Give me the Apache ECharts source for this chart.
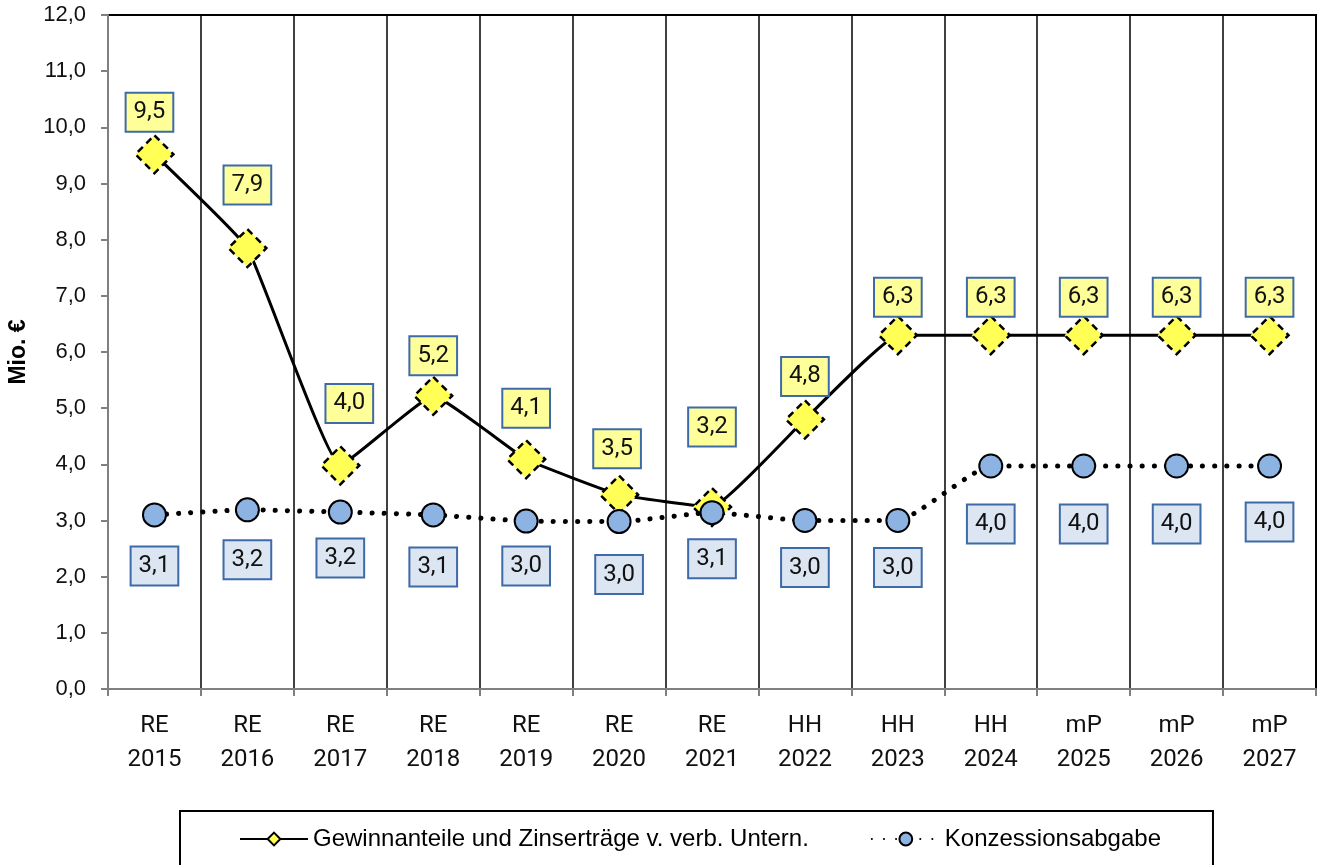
<!DOCTYPE html>
<html>
<head>
<meta charset="utf-8">
<script src="https://cdn.jsdelivr.net/npm/echarts@6/dist/echarts.min.js"></script>
<style>
  html, body { margin: 0; padding: 0; background: #fff; }
  #chart { width: 1318px; height: 865px; }
</style>
</head>
<body>
<div id="chart"></div>
<script>
// Kategorien (RE = Rechnungsergebnis, HH = Haushalt, mP = mittelfristige Planung)
const categories = [
  'RE\n2015', 'RE\n2016', 'RE\n2017', 'RE\n2018', 'RE\n2019', 'RE\n2020', 'RE\n2021',
  'HH\n2022', 'HH\n2023', 'HH\n2024', 'mP\n2025', 'mP\n2026', 'mP\n2027'
]
const gewinnanteile = [9.52, 7.85, 3.98, 5.22, 4.09, 3.46, 3.24, 4.8, 6.3, 6.3, 6.3, 6.3, 6.3]
const gewinnLabels = ['9,5', '7,9', '4,0', '5,2', '4,1', '3,5', '3,2', '4,8', '6,3', '6,3', '6,3', '6,3', '6,3']
const konzession = [3.1, 3.19, 3.15, 3.1, 2.99, 2.98, 3.14, 3.0, 3.0, 3.97, 3.97, 3.97, 3.97]
const konzessionLabels = ['3,1', '3,2', '3,2', '3,1', '3,0', '3,0', '3,1', '3,0', '3,0', '4,0', '4,0', '4,0', '4,0']
const seriesNames = ['Gewinnanteile und Zinserträge v. verb. Untern.', 'Konzessionsabgabe']

// Lage der Datenbeschriftungen (wie im Original manuell verschoben)
const gewinnLabelShift = [[-5, -42], [0, -63], [9, -62], [0, -40], [0, -51], [-2, -46], [0, -80], [0, -43], [0, -38], [0, -38], [0, -38], [0, -38], [0, -38]]
const konzLabelShift = [[0, 51], [0, 50], [0, 46], [0, 52], [0, 45], [0, 53], [0, 46], [0, 47], [0, 47], [0, 58], [0, 58], [0, 58], [0, 56]]

const chart = echarts.init(document.getElementById('chart'), null, { renderer: 'canvas' })

const labelBox = (fill, border) => ({
  show: true,
  position: 'inside',
  fontFamily: 'Roboto',
  fontSize: 24,
  lineHeight: 26,
  color: '#111',
  backgroundColor: fill,
  borderColor: border,
  borderWidth: 2,
  padding: [6, 7, 5, 7]
})

const option = {
  animation: false,
  backgroundColor: '#fff',
  grid: {
    left: 108,
    right: 2,
    top: 15,
    bottom: 176,
    outerBoundsMode: 'none',
    containLabel: false,
    show: true,
    borderColor: '#000',
    borderWidth: 2
  },
  legend: {
    left: 180,
    top: 811,
    padding: [16, 52, 40, 59],
    borderColor: '#000',
    borderWidth: 2,
    itemWidth: 68,
    itemHeight: 16,
    itemGap: 62,
    textStyle: { fontFamily: 'Liberation Sans', fontSize: 24, color: '#000' },
    data: seriesNames
  },
  xAxis: {
    type: 'category',
    data: categories,
    boundaryGap: true,
    axisLine: { lineStyle: { color: '#808080', width: 2 } },
    axisTick: { show: true, length: 7, lineStyle: { color: '#808080', width: 2 } },
    splitLine: { show: true, lineStyle: { color: '#000', width: 1.5 } },
    axisLabel: {
      margin: 20,
      fontFamily: 'Roboto',
      fontSize: 24,
      lineHeight: 34,
      color: '#111'
    }
  },
  yAxis: {
    type: 'value',
    min: 0,
    max: 12,
    interval: 1,
    name: 'Mio. €',
    nameLocation: 'middle',
    nameRotate: 90,
    nameGap: 78,
    nameTextStyle: { fontFamily: 'Liberation Sans', fontWeight: 'bold', fontSize: 23, color: '#000' },
    axisLine: { show: true, lineStyle: { color: '#808080', width: 2 } },
    axisTick: { show: true, length: 7, lineStyle: { color: '#808080', width: 2 } },
    splitLine: { show: false },
    axisLabel: {
      margin: 22,
      fontFamily: 'Liberation Sans',
      fontSize: 22,
      color: '#111',
      formatter: (v) => v.toFixed(1).replace('.', ',')
    }
  },
  series: [
    {
      name: seriesNames[0],
      type: 'line',
      smooth: 0.1,
      z: 3,
      data: gewinnanteile.map((v, i) => ({
        value: v,
        label: { offset: gewinnLabelShift[i], formatter: gewinnLabels[i] }
      })),
      lineStyle: { color: '#000', width: 3 },
      symbol: 'diamond',
      symbolSize: 38,
      itemStyle: { color: '#ffff55', borderColor: '#000', borderWidth: 2.5, borderType: [7, 5] },
      label: labelBox('#ffff99', '#3f6aa8')
    },
    {
      name: seriesNames[1],
      type: 'line',
      smooth: 0.15,
      z: 4,
      data: konzession.map((v, i) => ({
        value: v,
        label: { offset: konzLabelShift[i], formatter: konzessionLabels[i] }
      })),
      lineStyle: { color: '#000', width: 5, type: [0.1, 12], cap: 'round' },
      symbol: 'circle',
      symbolSize: 23,
      itemStyle: { color: '#8db3e2', borderColor: '#000', borderWidth: 2 },
      label: labelBox('#dce6f2', '#3f6aa8')
    }
  ]
}

chart.setOption(option)
</script>
</body>
</html>
